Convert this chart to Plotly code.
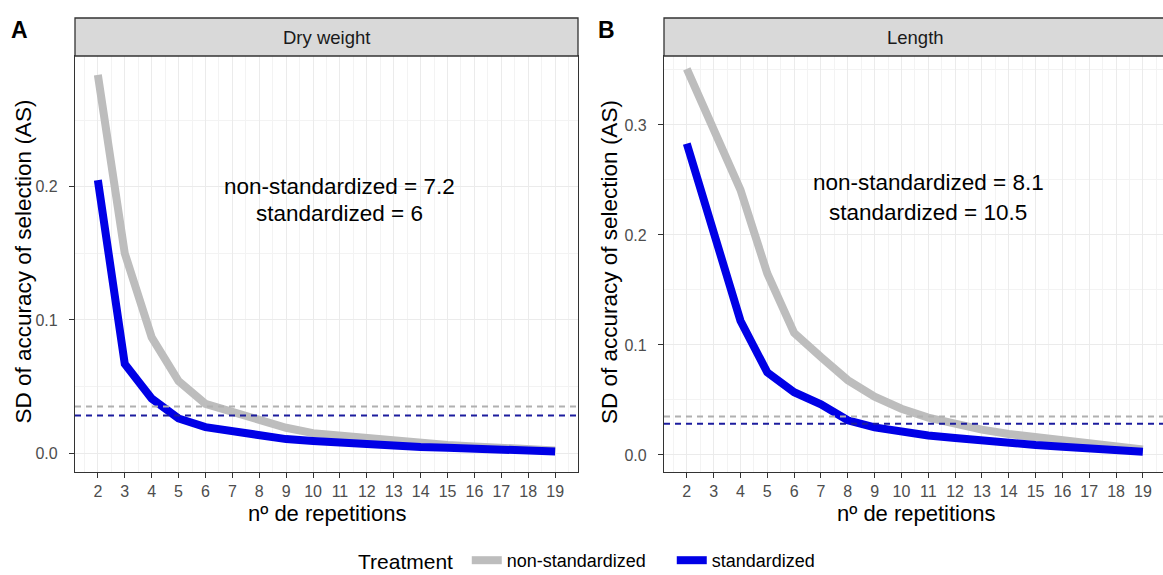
import plotly.graph_objects as go

W, H = 1163, 575

reps = list(range(2, 20))

dry_nonstd = [0.284, 0.150, 0.087, 0.054, 0.037, 0.031, 0.024, 0.019, 0.015, 0.013,
              0.011, 0.009, 0.008, 0.006, 0.005, 0.004, 0.003, 0.002]
dry_std = [0.205, 0.067, 0.041, 0.026, 0.0195, 0.016, 0.0125, 0.0105, 0.009, 0.0075,
           0.0065, 0.0055, 0.0045, 0.004, 0.003, 0.0025, 0.002, 0.0012]

len_nonstd = [0.351, 0.298, 0.241, 0.165, 0.111, 0.089, 0.068, 0.053, 0.042, 0.034,
              0.028, 0.023, 0.019, 0.016, 0.013, 0.010, 0.007, 0.005]
len_std = [0.283, 0.200, 0.122, 0.075, 0.057, 0.046, 0.0315, 0.025, 0.021, 0.0177,
           0.0155, 0.013, 0.011, 0.009, 0.0075, 0.006, 0.0045, 0.003]

thr_nonstd = [0.035, 0.035]   # dashed reference lines (Dry weight, Length)
thr_std = [0.0283, 0.0283]

panel_titles = ["Dry weight", "Length"]
panel_letters = ["A", "B"]
labels_nonstd = ["non-standardized = 7.2", "non-standardized = 8.1"]
labels_std = ["standardized = 6", "standardized = 10.5"]
label_pos = [(11, 0.2005, 0.1800), (11, 0.2480, 0.2205)]

y_ranges = [[-0.0142, 0.2982], [-0.0155, 0.3627]]
x_ranges = [[1.15, 19.85], [1.15, 19.75]]
y_ticks = [[0.0, 0.1, 0.2], [0.0, 0.1, 0.2, 0.3]]

GREY = "#bdbdbd"
BLUE = "#0000e6"
GREY_D = "#b0b0b0"
BLUE_D = "#1c1c9e"
FONT = "Liberation Sans"

def px_x(p):
    return p / W

def px_y(p):
    return 1 - p / H

x_domains = [[px_x(75), px_x(578)], [px_x(664), 1.0]]
y_domain = [px_y(472), px_y(56)]

fig = go.Figure()

series = [(dry_nonstd, dry_std), (len_nonstd, len_std)]
for i, (ns, st) in enumerate(series):
    xa = "x" if i == 0 else "x2"
    ya = "y" if i == 0 else "y2"
    fig.add_trace(go.Scatter(x=reps, y=ns, mode="lines", name="non-standardized",
                             line=dict(color=GREY, width=8), xaxis=xa, yaxis=ya,
                             showlegend=(i == 0), legendgroup="ns"))
    fig.add_trace(go.Scatter(x=reps, y=st, mode="lines", name="standardized",
                             line=dict(color=BLUE, width=8), xaxis=xa, yaxis=ya,
                             showlegend=(i == 0), legendgroup="st"))
    for val, col in ((thr_nonstd[i], GREY_D), (thr_std[i], BLUE_D)):
        fig.add_shape(type="line", xref=f"{xa} domain", yref=ya, x0=0, x1=1,
                      y0=val, y1=val, line=dict(color=col, width=2, dash="6px,5px"),
                      layer="above")

axis_common = dict(
    showline=True, linecolor="#333333", linewidth=1.3, mirror=True,
    ticks="outside", ticklen=5, tickcolor="#333333", tickwidth=1.3,
    tickfont=dict(family=FONT, size=16, color="#4d4d4d"),
    showgrid=True, gridcolor="#ebebeb", gridwidth=1.4, zeroline=False,
)

for i in range(2):
    sfx = "" if i == 0 else "2"
    fig.update_layout(**{
        f"xaxis{sfx}": dict(axis_common, domain=x_domains[i], range=x_ranges[i],
                             tickvals=reps, ticktext=[str(r) for r in reps],
                             anchor=f"y{sfx}", automargin=False,
                             minor=dict(tickvals=[r + 0.5 for r in [1] + reps],
                                        showgrid=True, gridcolor="#f3f3f3", gridwidth=1,
                                        ticks="")),
        f"yaxis{sfx}": dict(axis_common, domain=y_domain, range=y_ranges[i],
                             tickvals=y_ticks[i],
                             ticktext=[f"{v:.1f}" for v in y_ticks[i]],
                             anchor=f"x{sfx}", ticklabelstandoff=8, automargin=False,
                             minor=dict(dtick=0.05, tick0=0, showgrid=True,
                                        gridcolor="#f3f3f3", gridwidth=1, ticks="")),
    })

annotations = []
for i in range(2):
    xa = "x" if i == 0 else "x2"
    ya = "y" if i == 0 else "y2"
    x0, x1 = x_domains[i]
    cx = (x0 + x1) / 2 if i == 0 else px_x(664 + 251.5)
    # strip
    fig.add_shape(type="rect", xref="paper", yref="paper", x0=x0,
                  x1=x1 + (0.01 if i == 1 else 0),
                  y0=y_domain[1], y1=px_y(18), fillcolor="#d9d9d9",
                  line=dict(color="#333333", width=1.3), layer="above")
    annotations.append(dict(text=panel_titles[i], xref="paper", yref="paper",
                            x=cx, y=px_y(37), xanchor="center", yanchor="middle",
                            showarrow=False,
                            font=dict(family=FONT, size=18.5, color="#1a1a1a")))
    # panel letter
    annotations.append(dict(text=f"<b>{panel_letters[i]}</b>", xref="paper", yref="paper",
                            x=px_x(19 if i == 0 else 606), y=px_y(30),
                            xanchor="center", yanchor="middle", showarrow=False,
                            font=dict(family=FONT, size=23, color="black")))
    # y title
    annotations.append(dict(text="SD of accuracy of selection (AS)", xref="paper",
                            yref="paper", x=px_x(22.5 if i == 0 else 609),
                            y=px_y(262), textangle=-90,
                            xanchor="center", yanchor="middle", showarrow=False,
                            font=dict(family=FONT, size=22.5, color="black")))
    # x title
    annotations.append(dict(text="nº de repetitions", xref="paper", yref="paper",
                            x=cx, y=px_y(513), xanchor="center", yanchor="middle",
                            showarrow=False,
                            font=dict(family=FONT, size=22, color="black")))
    # text labels
    lx, ly1, ly2 = label_pos[i]
    annotations.append(dict(text=labels_nonstd[i], xref=xa, yref=ya, x=lx, y=ly1,
                            xanchor="center", yanchor="middle",
                            showarrow=False, font=dict(family=FONT, size=22.5, color="black")))
    annotations.append(dict(text=labels_std[i], xref=xa, yref=ya, x=lx, y=ly2,
                            xanchor="center", yanchor="middle",
                            showarrow=False, font=dict(family=FONT, size=22.5, color="black")))

fig.update_layout(
    width=W, height=H,
    margin=dict(l=0, r=0, t=0, b=0, autoexpand=False),
    paper_bgcolor="white", plot_bgcolor="white",
    annotations=annotations,
    showlegend=True,
    legend=dict(orientation="h", x=px_x(356), xanchor="left", y=px_y(561), yanchor="middle",
                title=dict(text="Treatment ", font=dict(family=FONT, size=21, color="black")),
                font=dict(family=FONT, size=18, color="black"),
                bgcolor="rgba(0,0,0,0)", itemwidth=30, entrywidth=160),
)

fig.write_html("out.html", config={"displayModeBar": False},
               post_script="document.body.style.margin='0';document.body.style.overflow='hidden';")
